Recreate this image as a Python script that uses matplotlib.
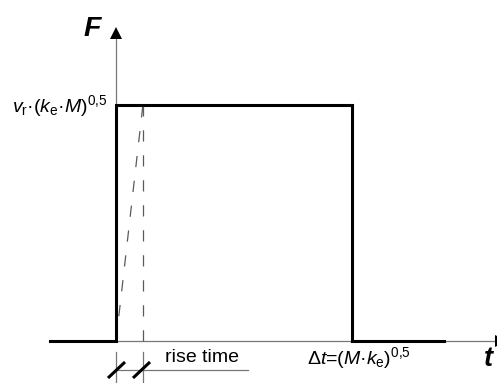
import matplotlib
matplotlib.use("Agg")
import matplotlib.pyplot as plt

plt.rcParams['font.family'] = ['Liberation Sans', 'DejaVu Sans']
plt.rcParams['mathtext.fontset'] = 'custom'
plt.rcParams['mathtext.rm'] = 'Liberation Sans'
plt.rcParams['mathtext.it'] = 'Liberation Sans:italic'
plt.rcParams['mathtext.bf'] = 'Liberation Sans:bold'

# ---- data (time in units of pulse duration, force in units of peak) ----
pulse_t = [-0.28, 0.0, 0.0, 1.0, 1.0, 1.39]
pulse_F = [0.0, 0.0, 1.0, 1.0, 0.0, 0.0]
rise_time = 0.114
duration = 1.0
amplitude = 1.0

label_F = r'$v_\mathrm{r}$·($k_\mathrm{e}$·$M)^{0{,}5}$'
label_dt = r'Δ$t$=($M$·$k_\mathrm{e})^{0{,}5}$'
label_rise = 'rise time'

# ---- layout ----
W, H = 497, 383
S = 236.0          # pixels per unit
X0, Y0 = 116, 341  # pixel position of origin


def P(x, y):
    """pixel -> data"""
    return (x - X0) / S, (Y0 - y) / S


fig = plt.figure(figsize=(W / 100, H / 100), dpi=100)
ax = fig.add_axes([0, 0, 1, 1])
ax.set_xlim(-X0 / S, (W - X0) / S)
ax.set_ylim(-(H - Y0) / S, Y0 / S)
ax.axis('off')

gray = '#777777'
dgray = '#5a5a5a'

# axes (thin gray) with arrowheads
ax.plot([0, 0], [0, P(0, 36)[1]], color=gray, lw=0.9, zorder=1)
ax.plot([0], [P(0, 33.5)[1]], marker='^', ms=8.0, color='black', mew=0, zorder=3)
ax.plot([0, P(W, 0)[0]], [0, 0], color=gray, lw=0.9, zorder=1)
ax.plot([P(501, 0)[0]], [0], marker='>', ms=8.0, color='black', mew=0, zorder=3)

# dashed rise lines
ax.plot([0, rise_time], [0, amplitude], color=dgray, lw=0.9,
        linestyle=(0, (9, 11)), zorder=1)
ax.plot([rise_time, rise_time], [0, amplitude], color=dgray, lw=0.9,
        linestyle=(0, (9, 11)), zorder=1)

# pulse
ax.plot(pulse_t, pulse_F, color='black', lw=2.2, solid_joinstyle='miter', zorder=2)

# dimension (rise time)
yb = P(0, 383)[1]
ye = P(0, 352)[1]
ax.plot([0, 0], [yb, ye], color=gray, lw=0.9)
ax.plot([rise_time, rise_time], [yb, ye], color=gray, lw=0.9)
yd = P(0, 370)[1]
ax.plot([0, P(248, 0)[0]], [yd, yd], color=gray, lw=0.9)
dx, dy = 8.5 / S, 8.0 / S
for xc in (P(116.5, 0)[0], P(141.5, 0)[0]):
    ax.plot([xc - dx, xc + dx], [yd - dy, yd + dy], color='black', lw=2.2,
            solid_capstyle='butt')

# texts
ax.text(*P(107, 112), label_F, fontsize=14, ha='right', va='baseline')
ax.text(*P(307, 364), label_dt, fontsize=14, ha='left', va='baseline')
ax.text(*P(165, 362), label_rise, fontsize=14, ha='left', va='baseline')
ax.text(*P(92, 36), 'F', fontsize=20.5, fontweight='bold', fontstyle='italic',
        ha='center', va='baseline')
ax.text(*P(488, 366), 't', fontsize=19.5, fontweight='bold', fontstyle='italic',
        ha='center', va='baseline')

fig.savefig('out.png', dpi=100)
